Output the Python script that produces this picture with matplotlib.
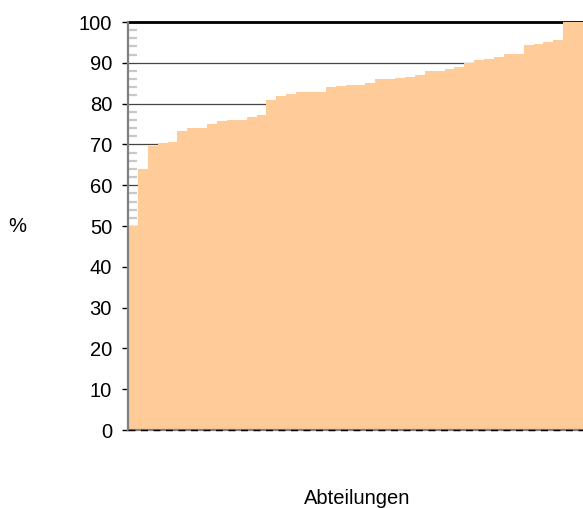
import matplotlib
matplotlib.use("Agg")
import matplotlib.pyplot as plt
import numpy as np
from matplotlib.ticker import MultipleLocator

plt.rcParams['font.family'] = ['Liberation Sans', 'DejaVu Sans']

# Share (%) per department, sorted ascending
values = [50.0, 63.9, 69.6, 70.3, 70.6, 73.3, 74.1, 74.1, 75.0, 75.7,
          76.0, 76.0, 76.7, 77.2, 80.9, 81.9, 82.4, 82.8, 82.8, 82.8,
          84.1, 84.3, 84.6, 84.6, 85.0, 86.0, 86.0, 86.3, 86.5, 87.0,
          88.0, 88.0, 88.5, 89.0, 90.0, 90.7, 90.9, 91.4, 92.2, 92.2,
          94.4, 94.6, 95.1, 95.6, 100.0, 100.0]
yticks = list(range(0, 101, 10))
ylabel_text = "%"
xlabel_text = "Abteilungen"

W, H = 583, 508
fig = plt.figure(figsize=(W / 100, H / 100), dpi=100)
ax = fig.add_axes([128 / W, 1 - 430 / H, 455 / W, 408 / H])

# Adjacent full-width bars, drawn as one filled step outline
edges = np.arange(len(values) + 1)
ax.stairs(values, edges, baseline=0, fill=True, color='#FFCC99',
          linewidth=0, zorder=1)

ax.set_xlim(0, len(values))
ax.set_ylim(0, 100)
ax.set_axisbelow(True)

ax.set_yticks(yticks)
ax.set_yticklabels([str(t) for t in yticks])
ax.yaxis.set_minor_locator(MultipleLocator(2))
ax.tick_params(axis='y', which='major', direction='out', length=4.5,
               width=1, color='black', labelsize=14.5, pad=7)
ax.tick_params(axis='y', which='minor', direction='in', length=6.5,
               width=1.6, color='#c8c8c8')
ax.set_xticks([])

ax.grid(axis='y', which='major', color='#444444', linewidth=0.9)

ax.spines['right'].set_visible(False)
ax.spines['top'].set_color('black')
ax.spines['top'].set_linewidth(2.0)
ax.spines['top'].set_zorder(0.6)
ax.spines['left'].set_color('#808080')
ax.spines['left'].set_linewidth(1.6)
ax.spines['bottom'].set_color('#808080')
ax.spines['bottom'].set_linewidth(1.6)
ax.axhline(0, color='black', linewidth=1.0, dashes=(5, 4), zorder=3,
           clip_on=False)

fig.text(17 / W, 1 - 227 / H, ylabel_text, ha='center', va='center',
         fontsize=14.5)
fig.text(357 / W, 1 - 498 / H, xlabel_text, ha='center', va='center',
         fontsize=14.5)

fig.savefig("out.png", dpi=100)
